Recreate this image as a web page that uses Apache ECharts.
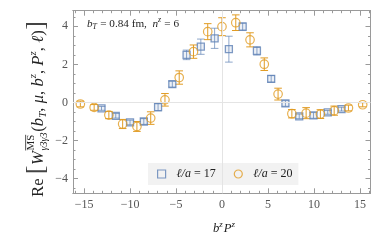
<!DOCTYPE html>
<html><head><meta charset="utf-8">
<script src="https://cdn.jsdelivr.net/npm/echarts@6/dist/echarts.min.js"></script>
<style>html,body{margin:0;padding:0;background:#fff}#c{width:382px;height:243px}</style>
</head><body><div id="c"></div>
<script>
// ---- data ----
const xTicks = [-15, -10, -5, 0, 5, 10, 15];
const xMinorTicks = [-16,-14,-13,-12,-11,-9,-8,-7,-6,-4,-3,-2,-1,1,2,3,4,6,7,8,9,11,12,13,14,16];
const yTicks = [-4, -2, 0, 2, 4];
const yMinorTicks = [-4.5,-3.5,-3,-2.5,-1.5,-1,-0.5,0.5,1,1.5,2.5,3,3.5,4.5];

const seriesNames = ['ℓ/a = 17', 'ℓ/a = 20'];
// ℓ/a = 17 (blue squares)
const blueX   = [-13.1, -11.55, -10.0, -8.5, -6.95, -5.4, -3.85, -2.3, -0.8, 0.75, 2.25, 3.8, 5.35, 6.9, 8.4, 9.95, 11.5, 13.0];
const blueY   = [-0.31, -0.70, -1.05, -1.00, -0.24, 0.96, 2.50, 2.93, 3.37, 2.80, 3.98, 2.71, 1.24, -0.05, -0.73, -0.68, -0.52, -0.35];
const blueErr = [0.10, 0.12, 0.12, 0.15, 0.20, 0.15, 0.25, 0.40, 0.53, 0.68, 0.20, 0.22, 0.17, 0.15, 0.12, 0.15, 0.10, 0.10];
// ℓ/a = 20 (orange circles)
const orangeX   = [-15.4, -13.9, -12.3, -10.8, -9.25, -7.75, -6.2, -4.65, -3.1, -1.55, 0, 1.5, 3.05, 4.6, 6.1, 7.6, 9.15, 10.7, 12.2, 13.75, 15.3];
const orangeY   = [-0.08, -0.26, -0.66, -1.13, -1.26, -0.82, 0.14, 1.31, 2.67, 3.72, 3.98, 4.19, 3.29, 2.01, 0.44, -0.59, -0.56, -0.61, -0.43, -0.29, -0.12];
const orangeErr = [0.15, 0.15, 0.19, 0.24, 0.26, 0.33, 0.33, 0.35, 0.35, 0.42, 0.47, 0.41, 0.37, 0.33, 0.31, 0.22, 0.29, 0.23, 0.24, 0.15, 0.11];

// ---- style ----
const X_MIN = -16.2, X_MAX = 16.15, Y_MIN = -4.77, Y_MAX = 4.82;
const BLUE = '#5E81B5', ORANGE = '#E19C24', FRAME = '#9a9a9a', LABEL = '#555';
const SERIF = '"Liberation Serif","DejaVu Serif",serif';

const mctx = document.createElement('canvas').getContext('2d');
function fontStr(f, size) { return (f.it ? 'italic ' : '') + size.toFixed(2) + 'px ' + SERIF; }
function measure(f, size) { mctx.font = fontStr(f, size); mctx.textBaseline = 'alphabetic'; return mctx.measureText(f.t).width; }
function midOff(f, size) { mctx.font = fontStr(f, size); mctx.textBaseline = 'middle'; const m = mctx.measureText('x'); mctx.textBaseline = 'alphabetic'; return m.actualBoundingBoxDescent; }

// lay out text fragments on a common baseline (y=0), scaled to a target length
function build(frags, target, color) {
  let x = 0, held = null, heldX = 0; const pos = [];
  frags.forEach(f => {
    const w = measure(f, f.s);
    if (f.hold) { heldX = x + (f.pre || 0); pos.push({ f, x: heldX, w }); held = w; }
    else if (held !== null) { pos.push({ f, x: heldX, w }); x = heldX + Math.max(held, w) + (f.post || 0); held = null; }
    else { pos.push({ f, x: x + (f.pre || 0), w }); x += w + (f.pre || 0) + (f.post || 0); }
  });
  const k = target / x; const out = [];
  pos.forEach(p => {
    const size = p.f.s * k;
    out.push({ type: 'text', x: p.x * k, y: (p.f.dy || 0) * k - midOff(p.f, size), silent: true,
      style: { text: p.f.t, font: fontStr(p.f, size), fill: p.f.col || color, align: 'left', verticalAlign: 'middle', textAlign: 'left', textVerticalAlign: 'middle' } });
    if (p.f.over) {
      const yy = ((p.f.dy || 0) - p.f.s * 0.78) * k;
      out.push({ type: 'line', silent: true, shape: { x1: p.x * k, y1: yy, x2: (p.x + p.w) * k, y2: yy }, style: { stroke: color, lineWidth: 0.8 } });
    }
  });
  return out;
}

const yLabelFrags = [
  { t: 'Re', s: 10 }, { t: ' ', s: 10 }, { t: '[', s: 15.5, post: 0.4, col: '#444' },
  { t: 'W', s: 10, it: 1 },
  { t: 'MS', s: 6.5, dy: -5, hold: 1, over: 1, pre: 0.3 },
  { t: 'γ3γ3', s: 6, dy: 2.8, it: 1, post: 0.5 },
  { t: '(', s: 10 }, { t: 'b', s: 10, it: 1 }, { t: 'T', s: 6.5, dy: 2, it: 1 },
  { t: ', ', s: 10 }, { t: 'μ', s: 10, it: 1 }, { t: ', ', s: 10 },
  { t: 'b', s: 10, it: 1 }, { t: 'z', s: 6.5, dy: -4, it: 1 }, { t: ', ', s: 10 },
  { t: 'P', s: 10, it: 1 }, { t: 'z', s: 6.5, dy: -4, it: 1 }, { t: ', ', s: 10 },
  { t: 'ℓ', s: 10, it: 1 }, { t: ')', s: 10, post: 0.4 }, { t: ']', s: 15.5, col: '#444' }
];
const annFrags = [
  { t: 'b', s: 10, it: 1 }, { t: 'T', s: 7, dy: 2, it: 1, post: 0.4 }, { t: ' = 0.84 fm,  ', s: 10 },
  { t: 'n', s: 10, it: 1 }, { t: 'z', s: 7, dy: -4, it: 1, post: 0.3 }, { t: ' = 6', s: 10 }
];
const xLabelFrags = [
  { t: 'b', s: 10, it: 1 }, { t: 'z', s: 7, dy: -4, it: 1, post: 0.8 },
  { t: 'P', s: 10, it: 1 }, { t: 'z', s: 7, dy: -4, it: 1 }
];

function xAx(pos, vals, len, labels) {
  return { type: 'value', gridIndex: 0, position: pos, min: X_MIN, max: X_MAX,
    axisLine: { show: true, onZero: false, lineStyle: { color: FRAME, width: 1 } },
    axisTick: { show: true, inside: true, length: len, customValues: vals, lineStyle: { color: FRAME, width: 1 } },
    axisLabel: labels ? { show: true, customValues: vals, margin: 6, fontFamily: SERIF, fontSize: 12, color: LABEL,
      formatter: v => (v < 0 ? '\u2212' + Math.abs(v) : String(v)) } : { show: false },
    splitLine: { show: false } };
}
function yAx(pos, vals, len, labels) {
  return { type: 'value', gridIndex: 0, position: pos, min: Y_MIN, max: Y_MAX,
    axisLine: { show: true, onZero: false, lineStyle: { color: FRAME, width: 1 } },
    axisTick: { show: true, inside: true, length: len, customValues: vals, lineStyle: { color: FRAME, width: 1 } },
    axisLabel: labels ? { show: true, customValues: vals, margin: 5, fontFamily: SERIF, fontSize: 12, color: LABEL,
      formatter: v => (v < 0 ? '\u2212' + Math.abs(v) : String(v)) } : { show: false },
    splitLine: { show: false } };
}

function errSeries(xs, ys, es, color, opacity) {
  return { type: 'custom', xAxisIndex: 0, yAxisIndex: 0, z: 1, silent: true,
    data: xs.map((x, i) => [x, ys[i] - es[i], ys[i] + es[i]]),
    encode: { x: 0, y: [1, 2] },
    renderItem: (params, api) => {
      const x = api.value(0), p1 = api.coord([x, api.value(1)]), p2 = api.coord([x, api.value(2)]);
      const w = 3.8, st = { stroke: color, lineWidth: 1, opacity: opacity };
      return { type: 'group', children: [
        { type: 'line', shape: { x1: p1[0], y1: p1[1], x2: p2[0], y2: p2[1] }, style: st },
        { type: 'line', shape: { x1: p1[0] - w, y1: p1[1], x2: p1[0] + w, y2: p1[1] }, style: st },
        { type: 'line', shape: { x1: p2[0] - w, y1: p2[1], x2: p2[0] + w, y2: p2[1] }, style: st }
      ] };
    } };
}

const chart = echarts.init(document.getElementById('c'), null, { renderer: 'canvas' });
chart.setOption({
  animation: false,
  backgroundColor: '#fff',
  grid: { left: 73, right: 11.5, top: 10.7, bottom: 49.7 },
  xAxis: [ xAx('bottom', xTicks, 5, true), xAx('bottom', xMinorTicks, 2.5, false), xAx('top', xTicks, 5, false), xAx('top', xMinorTicks, 2.5, false) ],
  yAxis: [ yAx('left', yTicks, 5, true), yAx('left', yMinorTicks, 2.5, false), yAx('right', yTicks, 5, false), yAx('right', yMinorTicks, 2.5, false) ],
  legend: {
    left: 148, top: 163, padding: [5, 6, 5, 9], backgroundColor: '#f2f2f2',
    itemWidth: 8, itemHeight: 8, itemGap: 18,
    data: [
      { name: seriesNames[0], icon: 'rect', itemStyle: { color: 'rgba(0,0,0,0)', borderColor: BLUE, borderWidth: 1.2 } },
      { name: seriesNames[1], icon: 'circle', itemStyle: { color: 'rgba(0,0,0,0)', borderColor: ORANGE, borderWidth: 1.2 } }
    ],
    formatter: name => '{i|ℓ/a}{n|' + name.slice(3) + '}',
    textStyle: { fontFamily: SERIF, fontSize: 12, color: '#222',
      rich: { i: { fontFamily: SERIF, fontSize: 12, fontStyle: 'italic', color: '#222', padding: [0, 0, 0, 6] },
              n: { fontFamily: SERIF, fontSize: 12, color: '#222' } } }
  },
  series: [
    Object.assign(errSeries(blueX, blueY, blueErr, BLUE, 0.7), {
      markLine: { silent: true, symbol: 'none', label: { show: false }, animation: false,
        lineStyle: { color: '#e4e4e4', width: 1, type: 'solid' }, data: [{ xAxis: 0 }, { yAxis: 0 }] } }),
    errSeries(orangeX, orangeY, orangeErr, ORANGE, 1),
    { name: seriesNames[0], type: 'scatter', z: 3, symbol: 'rect', symbolSize: 7,
      data: blueX.map((x, i) => [x, blueY[i]]),
      itemStyle: { color: 'rgba(94,129,181,0.15)', borderColor: BLUE, borderWidth: 1.3 } },
    { name: seriesNames[1], type: 'scatter', z: 3, symbol: 'circle', symbolSize: 8.5,
      data: orangeX.map((x, i) => [x, orangeY[i]]),
      itemStyle: { color: 'rgba(0,0,0,0)', borderColor: ORANGE, borderWidth: 1.2 } }
  ],
  graphic: [
    { type: 'group', x: 42.5, y: 197, rotation: Math.PI / 2, children: build(yLabelFrags, 176, '#222') },
    { type: 'group', x: 87, y: 26.7, children: build(annFrags, 92, '#222') },
    { type: 'group', x: 213, y: 232, children: build(xLabelFrags, 22, '#222') }
  ]
});
</script></body></html>
